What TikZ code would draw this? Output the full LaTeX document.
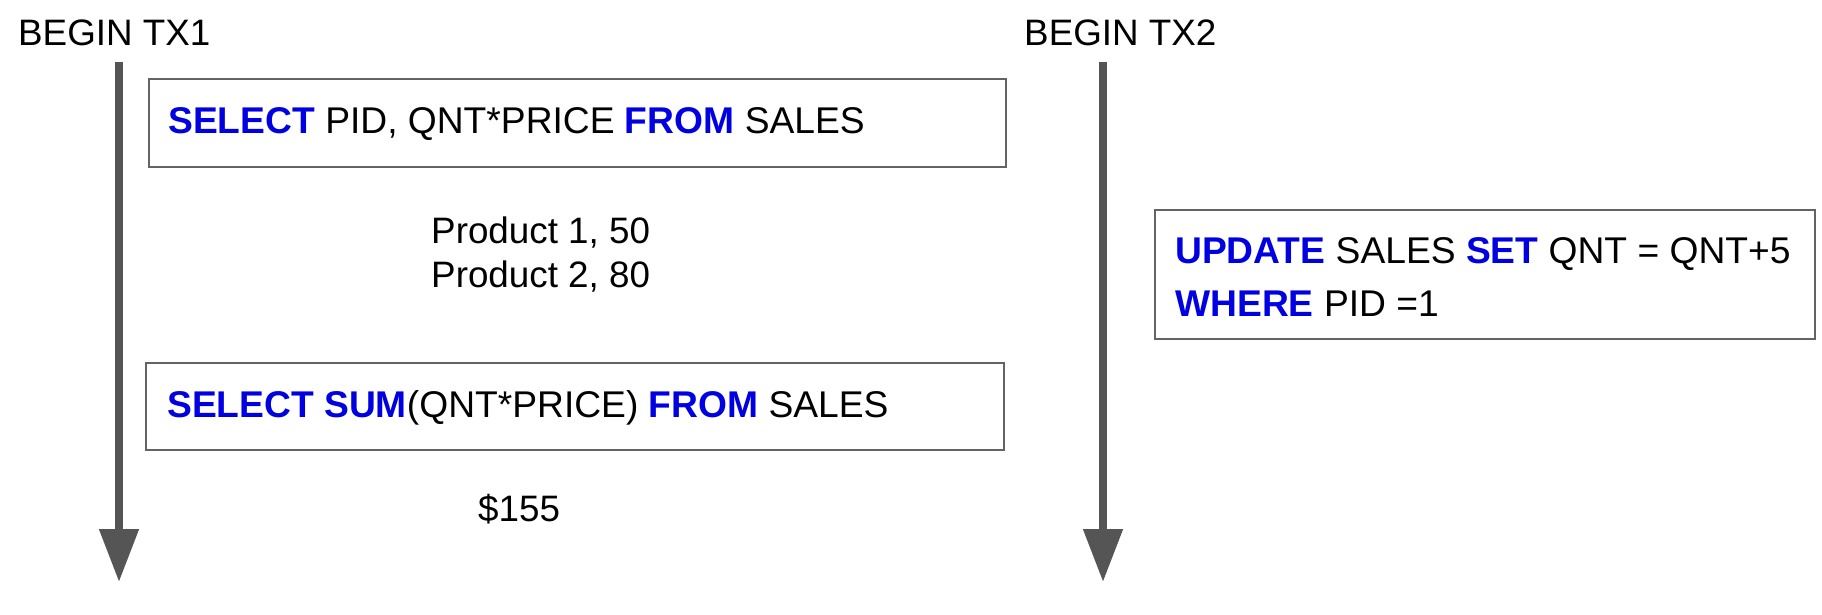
\documentclass[tikz,border=0pt]{standalone}
\usepackage{fontspec}
\setmainfont{Liberation Sans}
\usetikzlibrary{arrows.meta}
\definecolor{kw}{RGB}{0,0,225}
\definecolor{ln}{RGB}{85,85,85}
\definecolor{bx}{RGB}{100,100,100}
\newcommand{\K}[1]{\textcolor{kw}{\textbf{#1}}}
\begin{document}
\begin{tikzpicture}[x=1pt,y=-1pt,
  txt/.style={inner sep=0pt, anchor=base west, font=\fontsize{36.8}{43}\selectfont},
  btxt/.style={txt, font=\fontsize{37.2}{43}\selectfont},
  qbox/.style={draw=bx, line width=2pt, inner sep=0pt, anchor=north west},
  tline/.style={draw=ln, line width=8pt, -{Triangle[width=38pt,length=53pt]}}]
\useasboundingbox (0,0) rectangle (1822,615);
% transaction labels
\node[txt] (b1) at (18,46) {BEGIN TX1};
\node[txt] (b2) at (1024,46) {BEGIN TX2};
% timelines
\coordinate (t1s) at (119,62);
\coordinate (t1e) at (119,582);
\coordinate (t2s) at (1103,62);
\coordinate (t2e) at (1103,582);
\draw[tline] (t1s) -- (t1e);
\draw[tline] (t2s) -- (t2e);
% boxes
\node[qbox, minimum width=857pt, minimum height=88pt] (q1) at (148,78) {};
\node[btxt] (q1t) at (168,133) {\K{SELECT} PID, QNT*PRICE \K{FROM} SALES};
\node[qbox, minimum width=858pt, minimum height=87pt] (q2) at (145,362) {};
\node[btxt] (q2t) at (167,417) {\K{SELECT} \K{SUM}(QNT*PRICE) \K{FROM} SALES};
\node[qbox, minimum width=660pt, minimum height=129pt] (q3) at (1154,209) {};
\node[btxt] (q3a) at (1175,263) {\K{UPDATE} SALES \K{SET} QNT = QNT+5};
\node[btxt] (q3b) at (1175,316) {\K{WHERE} PID =1};
% results
\node[txt] (r1) at (431,243) {Product 1, 50};
\node[txt] (r2) at (431,287) {Product 2, 80};
\node[txt] (r3) at (478,521) {\$155};
\end{tikzpicture}
\end{document}
